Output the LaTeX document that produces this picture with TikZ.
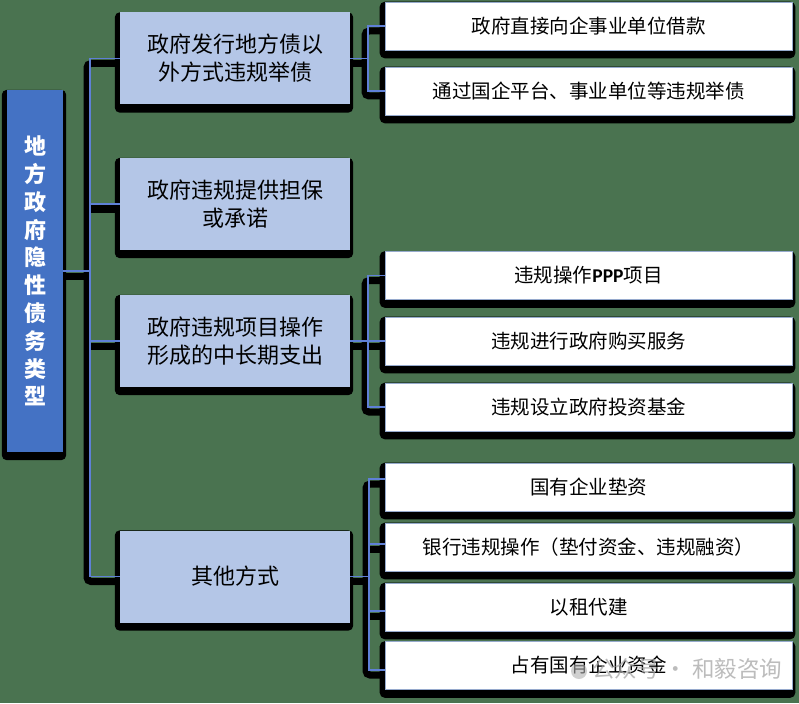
\documentclass[tikz,border=0pt]{standalone}
\usepackage{fontspec}
\setmainfont{Noto Sans CJK SC}
\newfontfamily\latinb{Carlito}
\pgfdeclarelayer{bglayer}
\pgfdeclarelayer{shadowlayer}
\pgfsetlayers{bglayer,shadowlayer,main}
\definecolor{bggreen}{RGB}{74,115,80}
\definecolor{rootblue}{RGB}{68,114,196}
\definecolor{lonefill}{RGB}{180,198,231}
\definecolor{connblue}{RGB}{95,128,215}
\definecolor{ltwoedge}{RGB}{150,170,205}
\newcommand\myshadow[1]{\fill[black, rounded corners=5pt] ([xshift=-5pt]#1.north west) rectangle ([xshift=3pt,yshift=-8pt]#1.south east);}
\newcommand\allconns[1]{%
  \draw[#1] (root.east) -- (tr |- root.east);
  \draw[#1] (A.west) -| (tr |- D.west) -- (D.west);
  \draw[#1] (B.west) -- (tr |- B.west);
  \draw[#1] (C.west) -- (tr |- C.west);
  \draw[#1] (A.east) -- (sa |- A.east);
  \draw[#1] (A1.west) -| (sa |- A2.west) -- (A2.west);
  \draw[#1] (C.east) -- (sc |- C.east);
  \draw[#1] (C1.west) -| (sc |- C3.west) -- (C3.west);
  \draw[#1] (C2.west) -- (sc |- C2.west);
  \draw[#1] (D.east) -- (sd |- D.east);
  \draw[#1] (d1p) -| (sd |- d4p) -- (d4p);
  \draw[#1] (d2p) -- (sd |- d2p);
  \draw[#1] (d3p) -- (sd |- d3p);
}
\tikzset{
  rootbox/.style={fill=rootblue, text=white, minimum width=56pt, minimum height=362pt, inner sep=0pt, align=center, font=\fontsize{22}{27.8}\selectfont\bfseries},
  lonebox/.style={fill=lonefill, text=black, minimum width=230pt, minimum height=92pt, inner sep=0pt, align=center, font=\fontsize{22}{28}\selectfont},
  ltwobox/.style={fill=white, draw=ltwoedge, line width=0.6pt, text=black, minimum width=407pt, minimum height=48pt, inner sep=0pt, align=center, font=\fontsize{19.5}{24}\selectfont},
  connline/.style={draw=connblue, line width=1.6pt},
  connshadow/.style={draw=black, line width=7pt, rounded corners=4pt, transform canvas={xshift=-3pt,yshift=-5pt}},
  wmark/.style={text=gray!70, opacity=0.75, font=\fontsize{22.5}{26}\selectfont, inner sep=0pt}
}
\begin{document}
\begin{tikzpicture}[x=1pt,y=-1pt]
\useasboundingbox (0,0) rectangle (799,703);
\begin{pgfonlayer}{bglayer}
\fill[bggreen] (0,0) rectangle (799,703);
\end{pgfonlayer}

% nodes
\node[rootbox] (root) at (35,271) {地\\方\\政\\府\\隐\\性\\债\\务\\类\\型};
\node[lonebox] (A) at (235,58.5) {政府发行地方债以\\外方式违规举债};
\node[lonebox] (B) at (235,204) {政府违规提供担保\\或承诺};
\node[lonebox] (C) at (235,341) {政府违规项目操作\\形成的中长期支出};
\node[lonebox] (D) at (235,576.5) {其他方式};

\node[ltwobox] (A1) at (588.5,26) {政府直接向企事业单位借款};
\node[ltwobox] (A2) at (588.5,91) {通过国企平台、事业单位等违规举债};
\node[ltwobox] (C1) at (588.5,275.5) {违规操作{\latinb\bfseries PPP}项目};
\node[ltwobox] (C2) at (588.5,341) {违规进行政府购买服务};
\node[ltwobox] (C3) at (588.5,407) {违规设立政府投资基金};
\node[ltwobox] (D1) at (588.5,487) {国有企业垫资};
\node[ltwobox] (D2) at (588.5,547) {银行违规操作（垫付资金、违规融资）};
\node[ltwobox] (D3) at (588.5,607) {以租代建};
\node[ltwobox] (D4) at (588.5,665.5) {占有国有企业资金};

\coordinate (tr) at (90,0);
\coordinate (sa) at (368,0);
\coordinate (sc) at (368,0);
\coordinate (sd) at (369,0);
\coordinate (d1p) at ([yshift=8pt]D1.west);
\coordinate (d2p) at ([yshift=3pt]D2.west);
\coordinate (d3p) at ([yshift=-4pt]D3.west);
\coordinate (d4p) at ([yshift=-4.5pt]D4.west);

\begin{pgfonlayer}{shadowlayer}
\myshadow{root}
\myshadow{A}\myshadow{B}\myshadow{C}\myshadow{D}
\myshadow{A1}\myshadow{A2}\myshadow{C1}\myshadow{C2}\myshadow{C3}
\myshadow{D1}\myshadow{D2}\myshadow{D3}\myshadow{D4}
\allconns{connshadow}
\end{pgfonlayer}

% connectors (blue)
\allconns{connline}

% watermark
\fill[gray!60, opacity=0.6] (579,671) circle (8);
\node[wmark, anchor=west] (wm) at (592,669) {公众号 · 和毅咨询};
\end{tikzpicture}
\end{document}
